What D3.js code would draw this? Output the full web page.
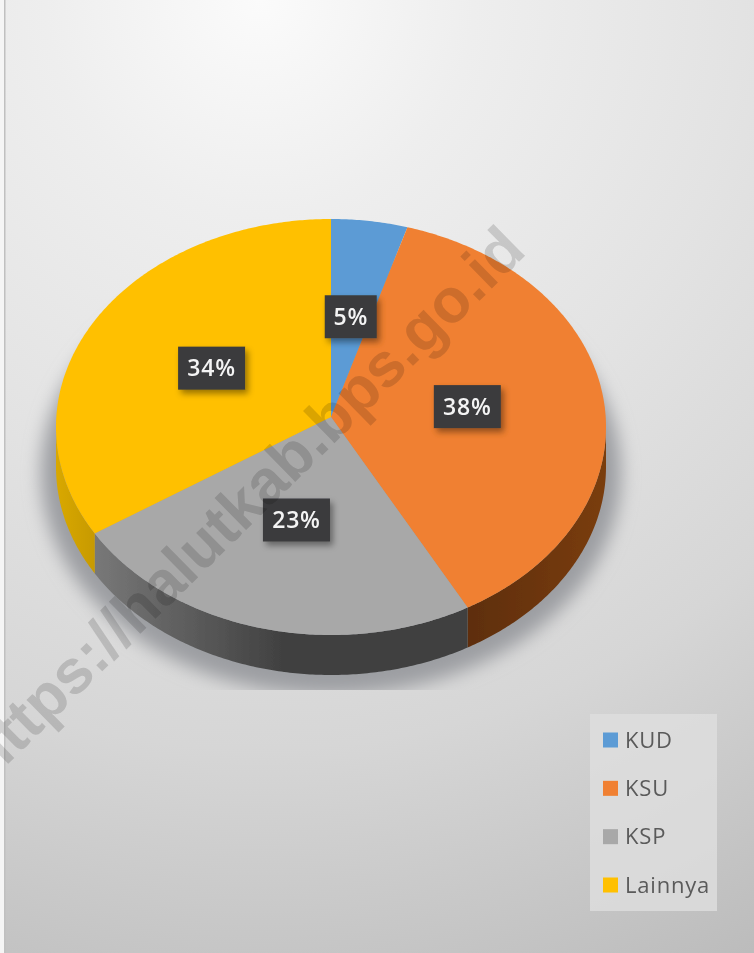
<!DOCTYPE html>
<html>
<head>
<meta charset="utf-8">
<script src="https://cdn.jsdelivr.net/npm/d3@7"></script>
<style>
  html, body { margin: 0; padding: 0; background: #f4f4f4; }
  svg { display: block; }
</style>
</head>
<body>
<div id="chart"></div>
<script>
// chart data
const categories = ["KUD", "KSU", "KSP", "Lainnya"];
const shares = [4.7, 37.4, 23.7, 34.2];       // slice sizes as drawn
const shareLabels = ["5%", "38%", "23%", "34%"]; // labels as printed
const colors = ["#5b9bd5", "#f08030", "#a8a8a8", "#ffc000"];
const wallColors = [
    ["#3f6d96", "#3f6d96"],
    ["#7a3d10", "#5e2e0b"],
    ["#787878", "#404040"],
    ["#c79a00", "#d9a800"]
];

const width = 754, height = 953;
const cx = 331, cy = 427, rx = 275, ry = 208, depth = 40;
const tilt = -0.048; // perspective: pie centre sits a bit above the ellipse centre

const svg = d3.select("#chart").append("svg")
    .attr("width", width)
    .attr("height", height);

const defs = svg.append("defs");

// background gradient, brightest near the top edge
const bg = defs.append("radialGradient").attr("id", "bg")
    .attr("gradientUnits", "userSpaceOnUse")
    .attr("cx", 260).attr("cy", 0).attr("r", 1070);
[[0, "#fbfbfb"], [0.2, "#eeeeee"], [0.45, "#e3e3e3"], [0.7, "#d6d6d6"], [1, "#bcbcbc"]].forEach(s =>
    bg.append("stop").attr("offset", s[0]).attr("stop-color", s[1]));

defs.append("filter").attr("id", "shadowBlur")
    .attr("x", "-10%").attr("y", "-10%").attr("width", "120%").attr("height", "120%")
    .append("feGaussianBlur").attr("stdDeviation", 9);

const boxShadow = defs.append("filter").attr("id", "boxShadow")
    .attr("x", "-20%").attr("y", "-20%").attr("width", "150%").attr("height", "160%");
boxShadow.append("feDropShadow")
    .attr("dx", 3).attr("dy", 4).attr("stdDeviation", 3)
    .attr("flood-color", "#000").attr("flood-opacity", 0.4);

defs.append("filter").attr("id", "soft")
    .append("feGaussianBlur").attr("stdDeviation", 0.55);

defs.append("clipPath").attr("id", "shadowClip")
    .append("rect").attr("x", 0).attr("y", 0).attr("width", width).attr("height", 690);

// unit circle -> picture, through the scales and the perspective tilt
const xScale = d3.scaleLinear().domain([-1, 1]).range([cx - rx, cx + rx]);
const yScale = d3.scaleLinear().domain([-1, 1]).range([cy - ry, cy + ry]);

function project(angle, r = 1) {
    const u = r * Math.sin(angle), v = -r * Math.cos(angle);
    const w = 1 + tilt * v;
    return [
        xScale(u * Math.sqrt(1 - tilt * tilt) / w),
        yScale((v + tilt) / w)
    ];
}

const pie = d3.pie().sort(null).value(d => d);
const arcs = pie(shares);

const line = d3.line();
const samples = (a0, a1) => {
    const n = Math.max(2, Math.ceil((a1 - a0) / 0.01));
    return d3.range(n + 1).map(i => a0 + (a1 - a0) * i / n);
};

const page = svg.append("g").attr("filter", "url(#soft)");

page.append("rect").attr("x", -2).attr("y", -2)
    .attr("width", width + 4).attr("height", height + 4).attr("fill", "url(#bg)");
// pale strip and edge on the left side
page.append("rect").attr("x", -2).attr("y", -2)
    .attr("width", 6).attr("height", height + 4).attr("fill", "#f5f5f5");
page.append("rect").attr("x", 4).attr("y", -2)
    .attr("width", 1.5).attr("height", height + 4).attr("fill", "#c0c0c0");

// soft shadow under the pie
page.append("g").attr("clip-path", "url(#shadowClip)")
    .append("ellipse")
    .attr("cx", cx).attr("cy", cy + 46)
    .attr("rx", rx + 15).attr("ry", ry + 14)
    .attr("fill", "#9c9ea2")
    .attr("filter", "url(#shadowBlur)");

// side wall, only the front half of the rim shows
const frontStart = Math.acos(tilt), frontEnd = 2 * Math.PI - frontStart;
const walls = page.append("g");
arcs.forEach((d, i) => {
    const a0 = Math.max(d.startAngle, frontStart);
    const a1 = Math.min(d.endAngle, frontEnd);
    if (a1 <= a0) return;
    const top = samples(a0, a1).map(a => project(a));
    const bottom = top.slice().reverse().map(p => [p[0], p[1] + depth]);

    const gradId = "wall" + i;
    const x0 = d3.min(top, p => p[0]);
    const x1 = i === 2 ? x0 + 190 : d3.max(top, p => p[0]);
    const g = defs.append("linearGradient").attr("id", gradId)
        .attr("gradientUnits", "userSpaceOnUse")
        .attr("x1", x0).attr("x2", x1)
        .attr("y1", 0).attr("y2", 0);
    g.append("stop").attr("offset", 0).attr("stop-color", wallColors[i][i === 2 ? 0 : 1]);
    g.append("stop").attr("offset", 1).attr("stop-color", wallColors[i][i === 2 ? 1 : 0]);

    walls.append("path")
        .attr("d", line(top.concat(bottom)) + "Z")
        .attr("fill", "url(#" + gradId + ")");
});

// top face
const slices = page.append("g");
slices.selectAll("path")
    .data(arcs)
    .enter()
    .append("path")
    .attr("d", d => {
        const pts = samples(d.startAngle, d.endAngle).map(a => project(a));
        return line([project(0, 0)].concat(pts)) + "Z";
    })
    .attr("fill", (d, i) => colors[i]);

// value labels
const labelFont = "'Open Sans', sans-serif";
const labels = page.append("g")
    .selectAll("g")
    .data(arcs)
    .enter()
    .append("g")
    .attr("transform", d => {
        const p = project((d.startAngle + d.endAngle) / 2, 0.5);
        return `translate(${p[0]},${p[1]})`;
    });

labels.append("rect")
    .attr("x", (d, i) => i === 0 ? -26 : -33.5)
    .attr("y", -21.5)
    .attr("width", (d, i) => i === 0 ? 52 : 67)
    .attr("height", 43)
    .attr("fill", "#3a3a3c")
    .attr("filter", "url(#boxShadow)");

labels.append("text")
    .attr("text-anchor", "middle")
    .attr("dy", "0.36em")
    .attr("font-family", labelFont)
    .attr("font-size", 23)
    .attr("font-weight", 600)
    .attr("letter-spacing", 0.8)
    .attr("fill", "#f4f4f4")
    .text((d, i) => shareLabels[i]);

// legend
const legendX = 590, legendW = 127;
const legendY = d3.scalePoint().domain(categories).range([740, 885]);
page.append("rect")
    .attr("x", legendX).attr("y", 714)
    .attr("width", legendW).attr("height", 197)
    .attr("fill", "#dedede").attr("fill-opacity", 0.8);

const legend = page.append("g")
    .selectAll("g")
    .data(categories)
    .enter()
    .append("g")
    .attr("transform", d => `translate(${legendX + 13},${legendY(d)})`);

legend.append("rect")
    .attr("x", 0).attr("y", -7.5)
    .attr("width", 15).attr("height", 15)
    .attr("fill", (d, i) => colors[i]);

legend.append("text")
    .attr("x", 22)
    .attr("dy", "0.35em")
    .attr("font-family", labelFont)
    .attr("font-size", 22)
    .attr("letter-spacing", 0.8)
    .attr("fill", "#5a5a5a")
    .text(d => d);

// watermark across the whole picture, runs off the left edge as in the original
svg.append("text")
    .attr("transform", "translate(528,253) rotate(-44.5)")
    .attr("text-anchor", "end")
    .attr("font-family", "'Liberation Sans', Arial, sans-serif")
    .attr("font-size", 62)
    .attr("font-weight", 700)
    .attr("fill", "#dadada")
    .style("mix-blend-mode", "multiply")
    .text("https://halutkab.bps.go.id");
</script>
</body>
</html>
